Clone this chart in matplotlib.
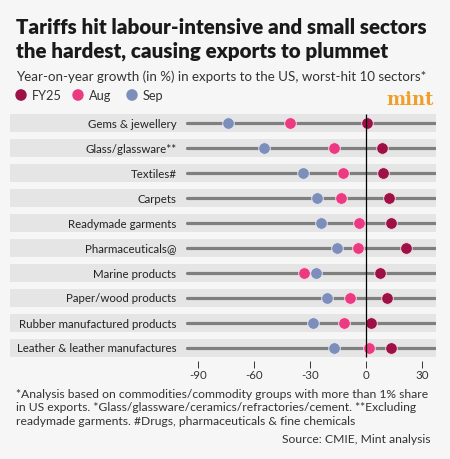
import matplotlib
matplotlib.use('Agg')
import matplotlib.pyplot as plt

# Sectors, top to bottom
sectors = ['Gems & jewellery', 'Glass/glassware**', 'Textiles#', 'Carpets',
           'Readymade garments', 'Pharmaceuticals@', 'Marine products',
           'Paper/wood products', 'Rubber manufactured products',
           'Leather & leather manufactures']

# Year-on-year growth (%) in exports to the US
fy25 = [0.7, 8.7, 9.3, 12.3, 13.6, 21.3, 7.7, 11.1, 2.9, 13.6]
aug = [-40.7, -17.1, -12.1, -13.4, -3.6, -4.5, -33.0, -8.6, -11.8, 1.8]
sep = [-73.7, -54.5, -33.7, -26.4, -24.1, -15.5, -26.8, -21.1, -28.2, -17.3]

xticks = [-90, -60, -30, 0, 30]

BG = '#f6f6f6'
BAND = '#e5e5e5'
C_FY = '#9e1147'
C_AUG = '#ec3a82'
C_SEP = '#7d8eba'
FONT = 'Lato'

W, H = 450, 460
fig = plt.figure(figsize=(W / 100, H / 100), dpi=100, facecolor=BG)

def fx(px):
    return px / W

def fy(py):
    return 1 - py / H

ax = fig.add_axes([fx(10), fy(362), fx(436) - fx(10), (362 - 110) / H])
ax.set_facecolor(BG)
ax.set_xlim(-190.7, 37.5)
ax.set_ylim(9.52, -0.56)

rows = range(len(sectors))
for i in rows:
    ax.axhspan(i - 0.37, i + 0.37, color=BAND, lw=0, zorder=0)
    ax.text(-101.5, i, sectors[i], ha='right', va='center', fontsize=8.3,
            family=FONT, color='#222222')
ax.hlines(list(rows), -96, 37, color='#7f7f7f', lw=2.3, zorder=1,
          capstyle='round')

ax.scatter(fy25, list(rows), s=70, color=C_FY, edgecolor='#f3e0e6', lw=0.6, zorder=3)
ax.scatter(aug, list(rows), s=70, color=C_AUG, edgecolor='#fbe0ea', lw=0.6, zorder=4)
ax.scatter(sep, list(rows), s=70, color=C_SEP, edgecolor='#e6eaf3', lw=0.6, zorder=5)
ax.vlines(0, -0.37, 9.37, color='black', lw=0.9, zorder=6)

for s in ax.spines.values():
    s.set_visible(False)
ax.set_yticks([])
ax.set_xticks(xticks)
ax.set_xticklabels([str(t) for t in xticks], family=FONT, fontsize=8.3, color='#333333')
ax.tick_params(axis='x', length=5, width=0.7, color='#333333', pad=1)

# Titles
fig.text(fx(16), fy(34), 'Tariffs hit labour-intensive and small sectors',
         fontsize=14.8, weight='heavy', family=FONT, color='#1a1a1a')
fig.text(fx(16), fy(58), 'the hardest, causing exports to plummet',
         fontsize=14.8, weight='heavy', family=FONT, color='#1a1a1a')
fig.text(fx(16), fy(81), 'Year-on-year growth (in %) in exports to the US, worst-hit 10 sectors*',
         fontsize=9.6, family=FONT, color='#333333')

# Legend
for x0, lab, c in [(21, 'FY25', C_FY), (78, 'Aug', C_AUG), (132, 'Sep', C_SEP)]:
    fig.patches.append(plt.Circle((fx(x0), fy(96)), 5 / W, color=c,
                                  transform=fig.transFigure, figure=fig))
    fig.text(fx(x0 + 11), fy(96), lab, va='center', fontsize=9.2, family=FONT,
             color='#333333')

fig.text(fx(434), fy(100), 'mint', ha='right', va='center', fontsize=13,
         weight='bold', family='DejaVu Serif', color='#f0a02a')

# Footnotes
notes = ['*Analysis based on commodities/commodity groups with more than 1% share',
         'in US exports. *Glass/glassware/ceramics/refractories/cement. **Excluding',
         'readymade garments. #Drugs, pharmaceuticals & fine chemicals']
for k, line in enumerate(notes):
    fig.text(fx(16), fy(394 + 14 * k), line, va='center', fontsize=8.75,
             family=FONT, color='#333333')
fig.text(fx(430), fy(440), 'Source: CMIE, Mint analysis', ha='right', va='center',
         fontsize=8.75, family=FONT, color='#333333')

fig.savefig('out.png', dpi=100, facecolor=BG)
